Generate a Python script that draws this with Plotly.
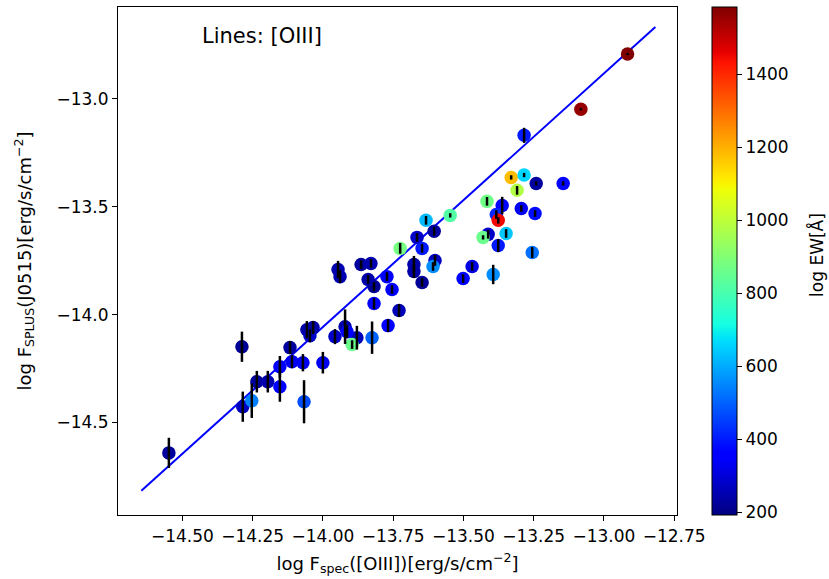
import plotly.graph_objects as go

# ---- data ----
x_spec = [-12.916, -13.082, -13.284, -13.330, -13.284, -13.241, -13.145, -13.309, -13.416, -13.362,
          -13.294, -13.383, -13.245, -13.376, -13.348, -13.412, -13.430, -13.376, -13.255, -13.633,
          -13.547, -13.604, -13.665, -13.647, -13.725, -13.601, -13.608, -13.676, -13.676, -13.647,
          -13.469, -13.501, -13.394, -13.772, -13.754, -13.818, -13.839, -13.864, -13.829, -13.818,
          -13.946, -13.939, -13.729, -13.768, -13.825, -13.879, -13.896, -13.921, -13.914, -13.957,
          -14.057, -14.035, -14.046, -14.117, -14.288, -14.110, -14.071, -14.000, -14.235, -14.196,
          -14.153, -14.153, -14.285, -14.253, -14.067, -14.548]
y_splus = [-12.792, -13.048, -13.169, -13.364, -13.353, -13.392, -13.392, -13.424, -13.475, -13.494,
           -13.508, -13.536, -13.531, -13.563, -13.624, -13.628, -13.642, -13.680, -13.712, -13.563,
           -13.540, -13.614, -13.642, -13.693, -13.693, -13.749, -13.777, -13.768, -13.800, -13.851,
           -13.777, -13.833, -13.814, -13.824, -13.884, -13.870, -13.837, -13.768, -13.763, -13.949,
           -13.791, -13.824, -13.981, -14.051, -14.107, -14.107, -14.139, -14.056, -14.079, -14.102,
           -14.070, -14.060, -14.098, -14.153, -14.149, -14.218, -14.223, -14.223, -14.311, -14.311,
           -14.242, -14.334, -14.427, -14.399, -14.404, -14.641]
y_err = [0.005, 0.005, 0.035, 0.01, 0.01, 0.01, 0.01, 0.02, 0.02, 0.04,
         0.015, 0.02, 0.015, 0.015, 0.02, 0.02, 0.01, 0.03, 0.025, 0.02,
         0.01, 0.02, 0.02, 0.02, 0.025, 0.025, 0.02, 0.04, 0.03, 0.02,
         0.02, 0.02, 0.045, 0.02, 0.02, 0.02, 0.02, 0.02, 0.02, 0.025,
         0.04, 0.03, 0.03, 0.03, 0.075, 0.055, 0.02, 0.08, 0.03, 0.035,
         0.04, 0.03, 0.03, 0.03, 0.07, 0.03, 0.04, 0.05, 0.05, 0.05,
         0.05, 0.07, 0.07, 0.08, 0.10, 0.07]
ew = [1585, 1560, 400, 1180, 660, 230, 360, 980, 870, 370,
      330, 420, 380, 1450, 640, 280, 860, 400, 520, 620,
      820, 230, 280, 400, 880, 270, 560, 240, 240, 220,
      310, 370, 560, 340, 360, 220, 240, 230, 250, 340,
      250, 250, 260, 360, 500, 260, 860, 240, 360, 280,
      240, 240, 280, 230, 220, 330, 330, 330, 230, 250,
      360, 360, 270, 540, 470, 230]

fit_x = [-14.646, -12.817]
fit_y = [-14.817, -12.667]

x_ticks = [-14.50, -14.25, -14.00, -13.75, -13.50, -13.25, -13.00, -12.75]
y_ticks = [-14.5, -14.0, -13.5, -13.0]
cbar_ticks = [200, 400, 600, 800, 1000, 1200, 1400]
ew_min, ew_max = 192, 1585

# matplotlib "jet" colormap
def _seg(p, pts):
    for (a, va), (b, vb) in zip(pts, pts[1:]):
        if a <= p <= b:
            return va + (vb - va) * (p - a) / (b - a) if b > a else vb
    return pts[-1][1]

R = [(0, 0), (0.35, 0), (0.66, 1), (0.89, 1), (1, 0.5)]
G = [(0, 0), (0.125, 0), (0.375, 1), (0.64, 1), (0.91, 0), (1, 0)]
B = [(0, 0.5), (0.11, 1), (0.34, 1), (0.65, 0), (1, 0)]
stops = sorted(set([0, 0.11, 0.125, 0.34, 0.35, 0.375, 0.5, 0.64, 0.65, 0.66, 0.75, 0.89, 0.91, 1.0]))
jet = [[s, "rgb(%d,%d,%d)" % (round(255 * _seg(s, R)), round(255 * _seg(s, G)), round(255 * _seg(s, B)))]
       for s in stops]

FONT = "DejaVu Sans"
FS = 17

fig = go.Figure()
fig.add_trace(go.Scatter(
    x=fit_x, y=fit_y, mode="lines", line=dict(color="rgb(0,0,255)", width=2),
    showlegend=False, hoverinfo="skip"))
fig.add_trace(go.Scatter(
    x=x_spec, y=y_splus, mode="markers",
    marker=dict(size=13.5, color=ew, colorscale=jet, cmin=ew_min, cmax=ew_max,
                line=dict(width=0),
                colorbar=dict(
                    thickness=25, len=1, lenmode="fraction", y=0.5, yanchor="middle",
                    x=1.063, xanchor="left", xpad=0, ypad=0,
                    outlinewidth=1, outlinecolor="black",
                    tickvals=cbar_ticks, ticks="outside", ticklen=5, tickcolor="black",
                    tickfont=dict(family=FONT, size=FS, color="black"))),
    showlegend=False))
# error bars drawn on top of markers
fig.add_trace(go.Scatter(
    x=x_spec, y=y_splus, mode="markers",
    marker=dict(size=1, color="rgba(0,0,0,0)"),
    error_y=dict(type="data", array=y_err, visible=True, color="black", thickness=2.5, width=0),
    showlegend=False, hoverinfo="skip"))

fig.add_annotation(x=0.147, y=0.943, xref="paper", yref="paper", xanchor="left", yanchor="middle",
                   text="Lines: [OIII]", showarrow=False,
                   font=dict(family=FONT, size=21, color="black"))
# colorbar label
fig.add_annotation(x=1.2505, y=0.512, xref="paper", yref="paper", xanchor="center", yanchor="middle",
                   text="log EW[Å]", textangle=-90, showarrow=False,
                   font=dict(family=FONT, size=FS, color="black"))

axis_common = dict(showline=True, linecolor="black", linewidth=1.2, mirror=True,
                   ticks="outside", ticklen=5, tickwidth=1.2, tickcolor="black",
                   showgrid=False, zeroline=False,
                   tickfont=dict(family=FONT, size=FS, color="black"))
fig.update_xaxes(range=[-14.729, -12.740], tickvals=x_ticks, tickformat=".2f",
                 title=dict(text="log F<sub>spec</sub>([OIII])[erg/s/cm<sup>−2</sup>]",
                            font=dict(family=FONT, size=FS + 1, color="black"), standoff=12),
                 **axis_common)
fig.update_yaxes(range=[-14.929, -12.574], tickvals=y_ticks, tickformat=".1f",
                 title=dict(text="log F<sub>SPLUS</sub>(J0515)[erg/s/cm<sup>−2</sup>]",
                            font=dict(family=FONT, size=FS + 1, color="black"), standoff=20),
                 **axis_common)

fig.update_layout(width=829, height=579, autosize=False,
                  margin=dict(l=118, r=152, t=7, b=64),
                  paper_bgcolor="white", plot_bgcolor="white",
                  font=dict(family=FONT, color="black"))

fig.write_html("out.html")
